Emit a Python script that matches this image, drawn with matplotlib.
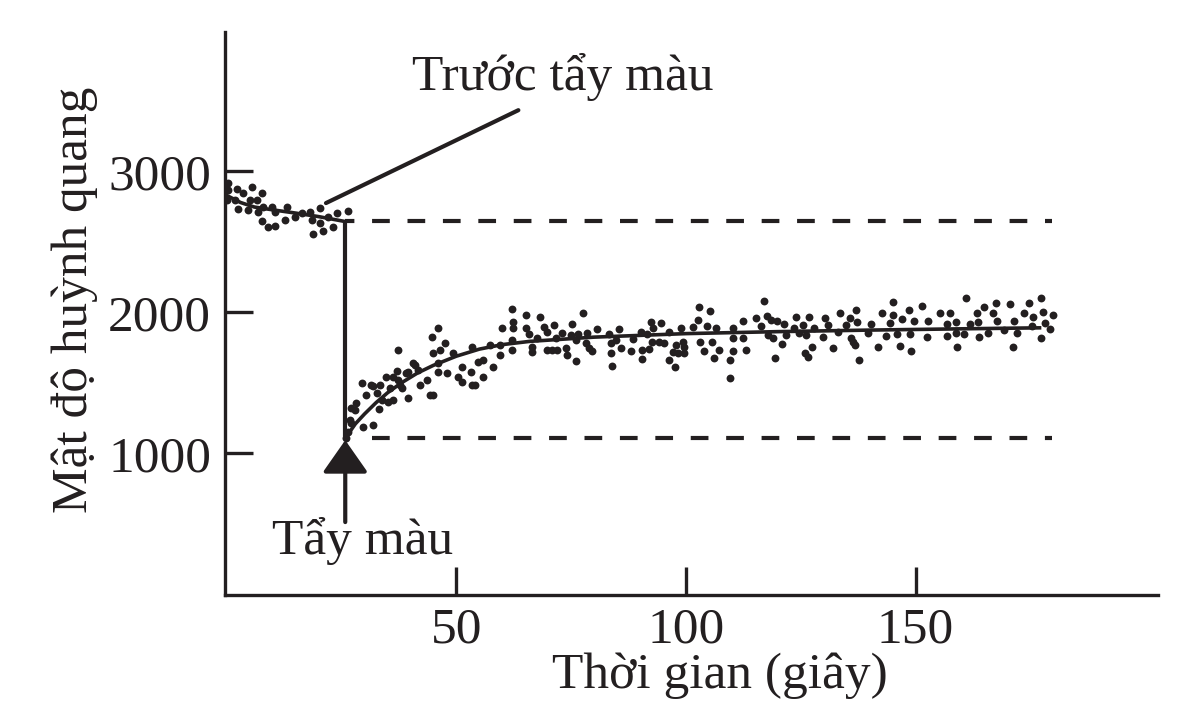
import matplotlib
matplotlib.use("Agg")
import matplotlib.pyplot as plt

plt.rcParams['font.family'] = ['Liberation Serif', 'DejaVu Serif']
INK = '#231f20'

# ---- data (time in s, fluorescence intensity) ----
pre_t = [0.2, 0.2, 0.0, 2.2, 1.7, 3.5, 5.5, 5.0, 6.6, 7.6, 2.4, 4.6, 6.8, 7.9, 9.8, 10.5,
         13.1, 12.7, 7.6, 9.0, 10.5, 14.8, 16.4, 18.1, 18.6, 20.3, 20.3, 21.0, 18.8, 23.1,
         22.1, 24.0, 26.4]
pre_v = [2918, 2869, 2798, 2876, 2798, 2847, 2889, 2798, 2798, 2847, 2734, 2727, 2713, 2748,
         2748, 2713, 2748, 2655, 2648, 2606, 2613, 2677, 2705, 2713, 2655, 2740, 2634, 2577,
         2556, 2606, 2677, 2705, 2720]

rec_t = [25.9, 26.4, 26.9, 27.1, 27.1, 27.9, 28.2, 29.7, 31.9, 29.5, 30.3, 31.9, 31.5, 32.8,
         33.2, 33.3, 33.8, 34.7, 35.2, 35.6, 36.2, 36.2, 37.1, 37.3, 37.3, 37.7, 38.2, 39.1,
         39.5, 39.5, 40.6, 41.0, 41.7, 42.1, 43.7, 44.3, 45.0, 44.8, 46.1, 45.0, 45.9, 45.9,
         47.6, 48.0, 46.5, 49.3, 50.4, 51.3, 51.3, 53.1, 53.5, 54.1, 53.5, 54.8, 55.9, 55.9,
         57.9, 57.4, 59.6, 59.6, 60.0, 62.2, 62.4, 62.4, 62.2, 62.2,
         65.1, 65.1, 65.8, 66.5, 66.5, 68.3, 69.1, 69.8, 67.5, 69.8, 70.9, 72.0, 71.3, 71.6,
         73.1, 73.8, 74.2, 75.1, 74.9, 76.0, 76.0, 76.5, 77.5, 78.2, 78.5, 78.9, 79.6, 80.6,
         83.3, 83.6, 83.6, 83.8, 84.7, 85.4, 85.8, 88.0, 88.4, 90.2, 90.5, 90.5, 91.6, 92.0,
         92.4, 92.9, 92.7, 94.2, 94.5, 95.3, 96.4, 96.4, 97.1, 97.6, 97.8, 98.2, 98.9, 99.3,
         99.5, 99.6,
         101.5, 102.6, 102.9, 103.1, 104.0, 104.6, 105.2, 105.6, 106.0, 106.6, 107.3, 109.5,
         109.5, 110.2, 110.2, 110.2, 112.4, 112.4, 113.1, 115.3, 116.4, 117.0, 117.7, 117.9,
         118.6, 118.9, 119.4, 119.9, 120.9, 121.3, 121.8, 123.5, 124.0, 124.7, 125.5, 126.2,
         126.0, 126.6, 126.9, 127.4, 127.9, 129.8, 130.2, 130.9, 132.0, 133.1, 133.6, 134.9,
         135.7, 135.9, 136.4, 136.8, 137.1, 137.3, 137.6,
         140.4, 139.7, 141.9, 142.6, 143.5, 144.5, 145.0, 145.0, 146.0, 146.6, 147.0, 148.6,
         148.8, 149.1, 149.7, 151.5, 152.4, 152.8, 155.3, 156.8, 156.8, 157.4, 158.8, 158.8,
         159.0, 160.6, 161.0, 161.9, 163.3, 163.7, 163.9, 164.9, 165.7, 166.8, 167.5, 167.8,
         169.3, 170.6, 171.3, 171.5, 172.1, 173.7, 174.6, 175.5, 175.3, 177.3, 177.7, 177.3,
         178.2, 179.2, 179.9]
rec_v = [1110, 1154, 1237, 1320, 1213, 1308, 1355, 1187, 1201, 1499, 1414, 1478, 1485, 1428,
         1315, 1485, 1379, 1542, 1367, 1464, 1379, 1544, 1584, 1733, 1521, 1485, 1464, 1568,
         1577, 1393, 1641, 1627, 1591, 1485, 1521, 1414, 1414, 1825, 1889, 1712, 1641, 1577,
         1783, 1570, 1733, 1712, 1542, 1506, 1613, 1577, 1485, 1485, 1754, 1648, 1662, 1542,
         1613, 1769, 1769, 1698, 1890, 2025, 1933, 1890, 1804, 1733,
         1981, 1887, 1845, 1752, 1721, 1970, 1899, 1863, 1821, 1733, 1733, 1733, 1911, 1816,
         1856, 1745, 1698, 1915, 1840, 1804, 1655, 1845, 1994, 1781, 1852, 1745, 1726, 1880,
         1845, 1781, 1710, 1620, 1804, 1880, 1745, 1726, 1809, 1863, 1733, 1669, 1845, 1738,
         1930, 1891, 1792, 1792, 1923, 1781, 1863, 1662, 1721, 1611, 1769, 1710, 1891, 1792,
         1757, 1710,
         1899, 1946, 2040, 1792, 1726, 1906, 2012, 1792, 1679, 1887, 1733, 1662,
         1533, 1887, 1816, 1728, 1941, 1816, 1733, 1958, 1906, 2083, 1977, 1840,
         1946, 1816, 1679, 1941, 1774, 1915, 1840, 1891, 1965, 1852, 1911, 1840,
         1710, 1686, 1965, 1757, 1887, 1828, 1958, 1911, 1750, 1863, 1994, 1911,
         1958, 1821, 1792, 1769, 2017, 1934, 1662,
         1918, 1852, 1757, 1994, 1835, 1923, 2072, 1981, 1845, 1762, 1953, 2017,
         1845, 1728, 1941, 2048, 1823, 1941, 1998, 1918, 1835, 1994, 1934, 1856,
         1757, 1845, 2100, 1915, 1994, 1930, 1823, 2040, 1856, 1998, 2064, 1939,
         1875, 2057, 1757, 1939, 1856, 1994, 2064, 1969, 1904, 2100, 2000, 1816,
         1927, 1880, 1981]

# fitted curves
fit_pre_t = [0, 3, 6, 10, 15, 20, 25.8]
fit_pre_v = [2830, 2780, 2748, 2728, 2705, 2680, 2645]
fit_rec_t = [25.8, 26.5, 28, 30, 32.5, 35, 38, 41.5, 45, 50, 55, 60, 66, 80, 100, 120, 140, 160, 177]
fit_rec_v = [1110, 1140, 1210, 1280, 1360, 1430, 1500, 1570, 1625, 1690, 1740, 1772, 1795,
             1825, 1850, 1864, 1875, 1884, 1891]

bleach_t = 25.8
pre_level = 2648
post_level = 1109
post_dash_start = 31.7
end_t = 179.7

xticks = [50, 100, 150]
yticks = [1000, 2000, 3000]

FS = 37
fig = plt.figure(figsize=(12.01, 7.21), dpi=100)
ax = fig.add_axes([0.1873, 0.1748, 0.7769, 0.7809])
ax.set_xlim(-0.4, 202.8)
ax.set_ylim(-4, 3990)

ax.scatter(pre_t, pre_v, s=32, color=INK, linewidths=0, zorder=3)
ax.scatter(rec_t, rec_v, s=32, color=INK, linewidths=0, zorder=3)
ax.plot(fit_pre_t, fit_pre_v, color=INK, lw=2.6, zorder=4)
ax.plot(fit_rec_t, fit_rec_v, color=INK, lw=2.6, zorder=4)

# bleach vertical line
ax.plot([bleach_t, bleach_t], [pre_level, post_level - 15], color=INK, lw=3,
        solid_capstyle='butt')
# dashed reference levels
dash = (2.0, (4.25, 4.25))
ax.plot([bleach_t, end_t], [pre_level, pre_level], color=INK, lw=3,
        linestyle=dash, dash_capstyle='butt')
ax.plot([post_dash_start, end_t], [post_level, post_level], color=INK, lw=3,
        linestyle=(0, (4.25, 4.25)), dash_capstyle='butt')

# bleach arrow
ax.annotate('', xy=(bleach_t, post_level - 15), xytext=(bleach_t, 513),
            arrowprops=dict(arrowstyle='-|>,head_length=2.0,head_width=1.4',
                            color=INK, lw=3, shrinkA=0, shrinkB=0))

# labels with lines
ax.annotate('', xy=(21.6, 2776), xytext=(63.5, 3435),
            arrowprops=dict(arrowstyle='-', color=INK, lw=3, shrinkA=0, shrinkB=0))
ax.text(40.3, 3580, 'Trước tẩy màu', fontsize=FS, color=INK, ha='left', va='baseline')
ax.text(9.8, 290, 'Tẩy màu', fontsize=FS, color=INK, ha='left', va='baseline')

for s in ['top', 'right']:
    ax.spines[s].set_visible(False)
for s in ['left', 'bottom']:
    ax.spines[s].set_linewidth(2.4)
    ax.spines[s].set_color(INK)

ax.set_xticks(xticks)
ax.set_yticks(yticks)
ax.tick_params(direction='in', length=20, width=2.4, color=INK, labelsize=FS,
               labelcolor=INK)
ax.tick_params(axis='x', pad=9)
ax.tick_params(axis='y', pad=10)

fig.text(720 / 1201, 1 - 688 / 721, 'Thời gian (giây)', fontsize=FS, color=INK,
         ha='center', va='baseline')
fig.text(75 / 1201, 1 - 300 / 721, 'Mật độ huỳnh quang', fontsize=FS, color=INK,
         ha='center', va='center', rotation=90)

fig.savefig('out.png', dpi=100)
